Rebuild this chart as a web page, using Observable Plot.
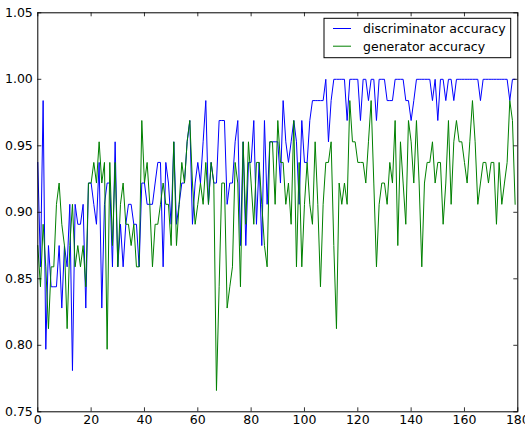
<!DOCTYPE html>
<html>
<head>
<meta charset="utf-8">
<script src="https://cdn.jsdelivr.net/npm/d3@7"></script>
<script src="https://cdn.jsdelivr.net/npm/@observablehq/plot@0.6"></script>
<style>
  html, body { margin: 0; padding: 0; background: #ffffff; overflow: hidden; }
  #chart { width: 525px; height: 426px; }
</style>
</head>
<body>
<div id="chart"></div>
<script>
// Series names and colours
const seriesNames = ["discriminator accuracy", "generator accuracy"];
const seriesColors = ["#0000ff", "#008000"];

// Tick labels
const xTicks = [0, 20, 40, 60, 80, 100, 120, 140, 160, 180];
const yTicks = [0.75, 0.80, 0.85, 0.90, 0.95, 1.00, 1.05];

// Discriminator accuracy per step (steps 0..179)
const discriminator = [
  0.9375, 0.859, 0.984, 0.797, 0.875, 0.844, 0.844, 0.844, 0.875, 0.828,
  0.875, 0.859, 0.906, 0.781, 0.906, 0.891, 0.891, 0.906, 0.828, 0.922,
  0.922, 0.906, 0.891, 0.9375, 0.828, 0.906, 0.922, 0.922, 0.859, 0.953,
  0.859, 0.891, 0.859, 0.891, 0.906, 0.906, 0.891, 0.891, 0.859, 0.922,
  0.922, 0.906, 0.906, 0.906, 0.922, 0.9375, 0.9375, 0.859, 0.9375, 0.922,
  0.891, 0.953, 0.891, 0.906, 0.922, 0.922, 0.953, 0.969, 0.891, 0.922,
  0.9375, 0.922, 0.953, 0.984, 0.906, 0.9375, 0.922, 0.922, 0.969, 0.969,
  0.969, 0.906, 0.922, 0.922, 0.953, 0.969, 0.875, 0.953, 0.875, 0.9375,
  0.9375, 0.969, 0.891, 0.9375, 0.875, 0.969, 0.906, 0.953, 0.953, 0.953,
  0.953, 0.922, 0.984, 0.953, 0.9375, 0.953, 0.969, 0.953, 0.906, 0.969,
  0.9375, 0.9375, 0.969, 0.984, 0.984, 0.984, 0.984, 0.984, 1.0, 0.953,
  0.984, 1.0, 1.0, 1.0, 1.0, 1.0, 0.969, 1.0, 1.0, 1.0,
  1.0, 0.969, 1.0, 1.0, 0.984, 1.0, 1.0, 0.969, 1.0, 1.0,
  1.0, 0.984, 0.984, 0.984, 1.0, 1.0, 1.0, 1.0, 0.984, 0.984,
  0.969, 0.984, 1.0, 1.0, 1.0, 1.0, 1.0, 1.0, 0.984, 1.0,
  0.969, 1.0, 1.0, 0.984, 1.0, 1.0, 0.984, 1.0, 1.0, 1.0,
  1.0, 1.0, 1.0, 1.0, 1.0, 1.0, 0.984, 1.0, 1.0, 1.0,
  1.0, 1.0, 1.0, 1.0, 1.0, 1.0, 1.0, 0.984, 1.0, 1.0
];

// Generator accuracy per step (steps 0..179)
const generator = [
  0.875, 0.844, 0.891, 0.859, 0.8125, 0.859, 0.859, 0.906, 0.922, 0.891,
  0.875, 0.8125, 0.875, 0.906, 0.859, 0.875, 0.859, 0.875, 0.844, 0.922,
  0.922, 0.9375, 0.922, 0.953, 0.922, 0.9375, 0.797, 0.9375, 0.875, 0.9375,
  0.859, 0.906, 0.922, 0.891, 0.891, 0.875, 0.891, 0.859, 0.859, 0.969,
  0.922, 0.9375, 0.906, 0.859, 0.891, 0.891, 0.906, 0.922, 0.906, 0.906,
  0.875, 0.953, 0.875, 0.906, 0.9375, 0.922, 0.953, 0.969, 0.922, 0.891,
  0.906, 0.922, 0.906, 0.9375, 0.906, 0.9375, 0.922, 0.766, 0.844, 0.922,
  0.922, 0.828, 0.844, 0.859, 0.9375, 0.922, 0.844, 0.953, 0.891, 0.953,
  0.922, 0.891, 0.9375, 0.9375, 0.906, 0.875, 0.859, 0.953, 0.953, 0.906,
  0.969, 0.9375, 0.9375, 0.906, 0.922, 0.891, 0.969, 0.859, 0.9375, 0.859,
  0.906, 0.9375, 0.906, 0.891, 0.953, 0.906, 0.844, 0.906, 0.9375, 0.9375,
  0.953, 0.875, 0.8125, 0.922, 0.906, 0.922, 0.906, 0.984, 0.953, 0.953,
  0.9375, 0.9375, 0.9375, 0.922, 0.953, 0.984, 0.922, 0.859, 0.906, 0.922,
  0.922, 0.906, 0.9375, 0.922, 0.969, 0.875, 0.953, 0.922, 0.891, 0.969,
  0.953, 0.922, 0.969, 0.922, 0.859, 0.922, 0.9375, 0.9375, 0.953, 0.922,
  0.9375, 0.9375, 0.891, 0.922, 0.969, 0.906, 0.953, 0.969, 0.953, 0.953,
  0.9375, 0.922, 0.953, 0.984, 0.953, 0.906, 0.922, 0.9375, 0.9375, 0.922,
  0.9375, 0.9375, 0.891, 0.9375, 0.906, 0.922, 0.9375, 0.984, 0.969, 0.906
];

const W = 525, H = 426;
const mL = 37.3, mR = 7.7, mT = 12.3, mB = 14.7;
const plotW = W - mL - mR, plotH = H - mT - mB;
const tickLen = 4;

const rows = [];
[discriminator, generator].forEach((arr, s) => {
  arr.forEach((v, i) => rows.push({step: i, value: v, series: seriesNames[s]}));
});

const chart = Plot.plot({
  width: W,
  height: H,
  marginLeft: mL,
  marginRight: mR,
  marginTop: mT,
  marginBottom: mB,
  style: {fontFamily: "'DejaVu Sans', sans-serif", fontSize: "12.5px", background: "#ffffff", color: "#000000", overflow: "visible"},
  x: {domain: [0, 180]},
  y: {domain: [0.75, 1.05]},
  color: {domain: seriesNames, range: seriesColors},
  marks: [
    Plot.line(rows, {x: "step", y: "value", stroke: "series", z: "series", strokeWidth: 1, curve: "linear"}),
    Plot.ruleX(xTicks, {x: d => d, insetTop: plotH - tickLen, stroke: "#000", strokeWidth: 0.8}),
    Plot.ruleX(xTicks, {x: d => d, insetBottom: plotH - tickLen, stroke: "#000", strokeWidth: 0.8}),
    Plot.ruleY(yTicks, {y: d => d, insetRight: plotW - tickLen, stroke: "#000", strokeWidth: 0.8}),
    Plot.ruleY(yTicks, {y: d => d, insetLeft: plotW - tickLen, stroke: "#000", strokeWidth: 0.8}),
    Plot.frame({stroke: "#000", strokeWidth: 1}),
    Plot.axisX(xTicks, {tickSize: 0, tickPadding: 3, tickFormat: d => String(d), label: null, fill: "#000"}),
    Plot.axisY(yTicks, {tickSize: 0, tickPadding: 5, tickFormat: d3.format(".2f"), label: null, fill: "#000"})
  ]
});

document.getElementById("chart").appendChild(chart);

// Legend inside the axes, upper right
const svg = d3.select(chart);
const lg = svg.append("g")
  .attr("font-family", "'DejaVu Sans', sans-serif")
  .attr("font-size", "12.5px")
  .attr("text-anchor", "start");
lg.append("rect")
  .attr("x", 324).attr("y", 18.3)
  .attr("width", 510.7 - 324).attr("height", 57.7 - 18.3)
  .attr("fill", "#ffffff").attr("stroke", "#000").attr("stroke-width", 1);
seriesNames.forEach((name, k) => {
  const cy = 28.5 + k * 17.7;
  lg.append("line")
    .attr("x1", 333).attr("x2", 351).attr("y1", cy).attr("y2", cy)
    .attr("stroke", seriesColors[k]).attr("stroke-width", 1);
  lg.append("text")
    .attr("x", 363).attr("y", cy).attr("dy", "0.35em")
    .attr("text-anchor", "start")
    .attr("fill", "#000").text(name);
});
</script>
</body>
</html>
